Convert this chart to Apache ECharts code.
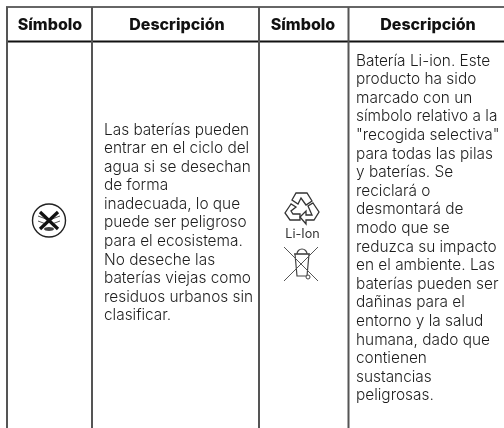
<!DOCTYPE html>
<html><head><meta charset="utf-8">
<style>html,body{margin:0;padding:0;background:#fff}#c{width:504px;height:428px}</style>
<script src="https://cdn.jsdelivr.net/npm/echarts@6/dist/echarts.min.js"></script>
</head><body><div id="c"></div>
<script>
const headers = ['Símbolo','Descripción','Símbolo','Descripción'];
const leftLines = ['Las baterías pueden','entrar en el ciclo del','agua si se desechan','de forma','inadecuada, lo que','puede ser peligroso','para el ecosistema.','No deseche las','baterías viejas como','residuos urbanos sin','clasificar.'];
const rightLines = ['Batería Li-ion. Este','producto ha sido','marcado con un','símbolo relativo a la','"recogida selectiva"','para todas las pilas','y baterías. Se','reciclará o','desmontará de','modo que se','reduzca su impacto','en el ambiente. Las','baterías pueden ser','dañinas para el','entorno y la salud','humana, dado que','contienen','sustancias','peligrosas.'];
const symbolLabel = 'Li-Ion';

const FONT = 'Inter';
const els = [];
const ink = '#1c1c1c';
function line(x1,y1,x2,y2,c,w){els.push({type:'line',shape:{x1,y1,x2,y2},style:{stroke:c,lineWidth:w}});}
// rules
line(6,7,504,7,'#333',1.5);
line(6,41.5,504,41.5,'#111',2);
[[7,'#555'],[92,'#555'],[259,'#555'],[348.5,'#555']].forEach(v=>line(v[0],7,v[0],428,v[1],2));
// header
const hx=[50,177,303,428];
headers.forEach((h,i)=>els.push({type:'text',style:{x:hx[i],y:25,text:h,fill:'#111',font:'800 16px '+FONT,align:'center',verticalAlign:'middle'}}));
// body
const font='300 15.4px '+FONT;
leftLines.forEach((t,i)=>els.push({type:'text',style:{x:104,y:130+i*18.57,text:t,fill:ink,font,verticalAlign:'middle'}}));
rightLines.forEach((t,i)=>els.push({type:'text',style:{x:356,y:61+i*18.6,text:t,fill:ink,font,verticalAlign:'middle'}}));
// water symbol
els.push({type:'circle',shape:{cx:49,cy:220.5,r:16.5},style:{fill:'#fff',stroke:'#222',lineWidth:1.4}});
[[38,216,46,219],[52,219,60,216],[38,221,46,224],[52,224,60,221]].forEach(a=>line(a[0],a[1],a[2],a[3],'#555',1));
els.push({type:'ellipse',shape:{cx:49,cy:229,rx:5,ry:2},style:{fill:'#444'}});
line(40,212,58,229,'#111',3.2); line(58,212,40,229,'#111',3.2);
// recycle symbol
const tri=(pts)=>els.push({type:'polygon',shape:{points:pts},style:{fill:'none',stroke:'#333',lineWidth:1.3}});
tri([[296,193],[307,193],[312,201],[306,205],[301,198],[298,204],[292,200]]);
tri([[313,203],[319,212],[314,220],[306,220],[306,224],[300,217],[306,211],[306,215],[312,215],[308,206]]);
tri([[291,204],[285,213],[290,220],[300,220],[300,214],[293,214],[291,211],[296,207]]);
// Li-Ion
els.push({type:'text',style:{x:302.5,y:234,text:symbolLabel,fill:'#333',font:'400 12.6px '+FONT,align:'center',verticalAlign:'middle'}});
// bin
line(294,254,310,254,'#444',1.2);
els.push({type:'polygon',shape:{points:[[295,254],[309,254],[307,276],[297,276]]},style:{fill:'none',stroke:'#444',lineWidth:1.2}});
els.push({type:'arc',shape:{cx:302,cy:254,r:5,startAngle:Math.PI,endAngle:0},style:{fill:'none',stroke:'#444',lineWidth:1.2}});
els.push({type:'circle',shape:{cx:308,cy:277,r:2},style:{fill:'#fff',stroke:'#444',lineWidth:1}});
line(284,247,318,281,'#555',1); line(318,247,284,281,'#555',1);

const chart=echarts.init(document.getElementById('c'),null,{renderer:'canvas'});
chart.setOption({animation:false,graphic:{elements:els}});
</script></body></html>
